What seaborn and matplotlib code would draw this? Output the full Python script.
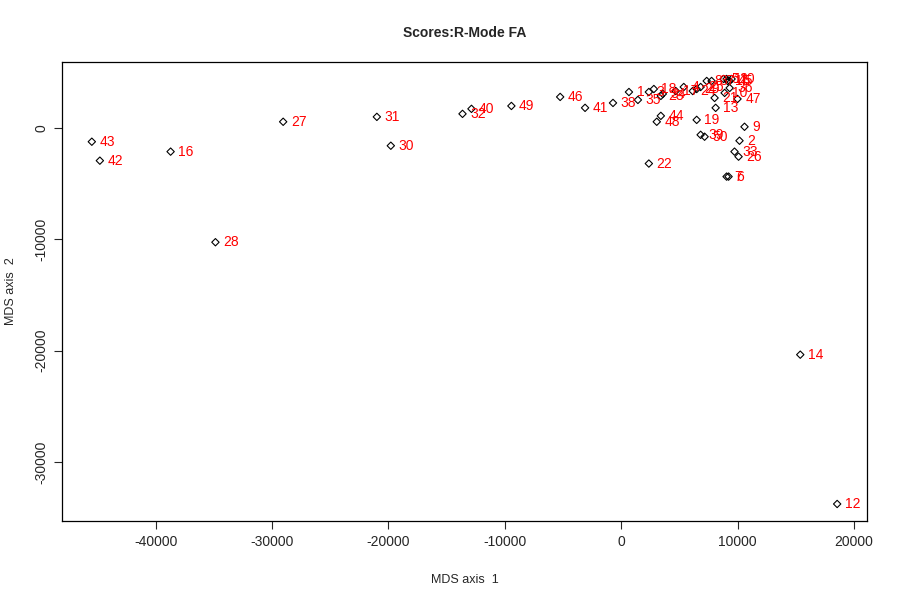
import numpy as np
import pandas as pd
import matplotlib
matplotlib.use('Agg')
import matplotlib.pyplot as plt
import seaborn as sns

sns.set_style('white')
plt.rcParams['font.family'] = ['Liberation Sans', 'DejaVu Sans']
plt.rcParams['axes.unicode_minus'] = False

# ── データ（図から読み取った MDS スコア） ─────────────────────
labels = [43, 42, 16, 28, 27, 31, 30, 32, 40, 49,
          46, 41, 38, 1, 35, 3, 18, 23, 34, 17,
          4, 24, 29, 25, 8, 37, 21, 13, 5, 11,
          15, 45, 20, 10, 36, 47, 44, 48, 19, 9,
          39, 50, 2, 33, 26, 22, 7, 6, 14, 12]
axis1 = [-45490, -44800, -38720, -34870, -29050, -21000, -19800, -13640, -12870, -9440,
         -5250, -3110, -710, 660, 1430, 2370, 2800, 3400, 3570, 4680,
         5370, 6140, 6480, 6820, 7340, 7760, 8020, 8110, 8790, 9050,
         9140, 9310, 9480, 8880, 9310, 9990, 3400, 3050, 6480, 10590,
         6820, 7160, 10160, 9730, 10080, 2370, 9050, 9220, 15380, 18550]
axis2 = [-1250, -2950, -2140, -10270, 540, 980, -1610, 1250, 1700, 1960,
         2770, 1790, 2230, 3210, 2500, 3210, 3480, 2860, 3040, 3300,
         3660, 3300, 3480, 3660, 4200, 4200, 2680, 1790, 4380, 4380,
         4200, 4200, 4380, 3130, 3570, 2590, 1070, 540, 710, 90,
         -630, -800, -1160, -2140, -2590, -3210, -4380, -4380, -20360, -33760]

df = pd.DataFrame({'label': labels, 'mds1': axis1, 'mds2': axis2})

# ── 描画 ──────────────────────────────────────────────────────
fig = plt.figure(figsize=(9, 6), dpi=100)
ax = fig.add_axes([0.0689, 0.1317, 0.8944, 0.765])

sns.scatterplot(data=df, x='mds1', y='mds2', marker='D', s=14,
                facecolor='none', edgecolor='black', linewidth=0.8, ax=ax)

for _, r in df.iterrows():
    ax.annotate(str(r['label']), (r['mds1'], r['mds2']),
                xytext=(5.5, 0), textcoords='offset points',
                ha='left', va='center', color='red', fontsize=10)

# R 風に 4% 拡張した範囲
xr = df['mds1'].max() - df['mds1'].min()
yr = df['mds2'].max() - df['mds2'].min()
ax.set_xlim(df['mds1'].min() - 0.04 * xr, df['mds1'].max() + 0.04 * xr)
ax.set_ylim(df['mds2'].min() - 0.04 * yr, df['mds2'].max() + 0.04 * yr)

ax.set_xticks(np.arange(-40000, 20001, 10000))
ax.set_yticks(np.arange(-30000, 1, 10000))
ax.tick_params(direction='out', length=6, width=0.8, labelsize=10,
               bottom=True, left=True, pad=4)
plt.setp(ax.get_yticklabels(), rotation=90, va='center')

for s in ax.spines.values():
    s.set_color('black')
    s.set_linewidth(0.9)

ax.set_xlabel('MDS axis  1', fontsize=9, labelpad=18)
ax.set_ylabel('MDS axis  2', fontsize=9, labelpad=12)
ax.set_title('Scores:R-Mode FA', fontsize=10, fontweight='bold', pad=18)

plt.savefig('out.png', dpi=100)
plt.close()
